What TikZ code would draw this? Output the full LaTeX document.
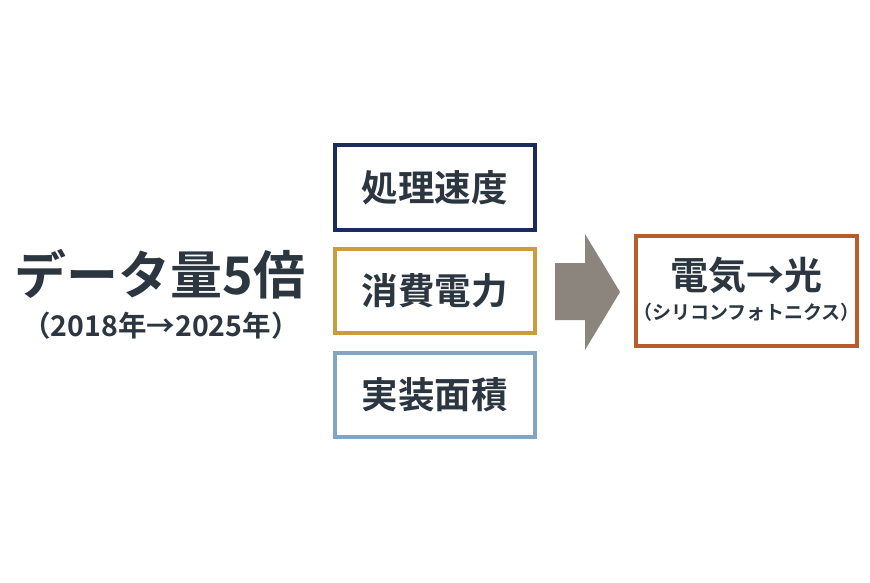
\documentclass[tikz,border=0pt]{standalone}
\usepackage{fontspec}
\newfontfamily\cjk{Noto Sans CJK JP}[BoldFont={* Bold}]
\definecolor{txt}{HTML}{2B3640}
\definecolor{navy}{HTML}{1A2B5C}
\definecolor{gold}{HTML}{C99D3E}
\definecolor{lblue}{HTML}{82A5C4}
\definecolor{rust}{HTML}{B65D2A}
\definecolor{arrowgray}{HTML}{8C857D}
\begin{document}
\begin{tikzpicture}[x=1pt,y=-1pt,
  lbl/.style={font=\cjk\bfseries, text=txt, inner sep=0pt},
  box/.style={draw, line width=4pt, fill=white, minimum width=200pt, minimum height=84pt, inner sep=0pt}]
\useasboundingbox[fill=white] (0,0) rectangle (870,583);
% left text
\node[lbl, font=\cjk\bfseries\fontsize{52}{58}\selectfont] (big) at (160,274) {データ量5倍};
\node[lbl, font=\cjk\bfseries\fontsize{28.5}{32}\selectfont] (years) at (161,326) {（2018年→2025年）};
% boxes
\node[box, draw=navy] (b1) at (434.5,187.5) {};
\node[lbl, font=\cjk\bfseries\fontsize{36.5}{42}\selectfont] (t1) at (b1) {処理速度};
\node[box, draw=gold] (b2) at (434.5,290.5) {};
\node[lbl, font=\cjk\bfseries\fontsize{36.5}{42}\selectfont] (t2) at (b2) {消費電力};
\node[box, draw=lblue] (b3) at (434.5,394.5) {};
\node[lbl, font=\cjk\bfseries\fontsize{36.5}{42}\selectfont] (t3) at (b3) {実装面積};
% block arrow
\fill[arrowgray] (555,263) -- (585,263) -- (585,234) -- (620,292) -- (585,350) -- (585,320) -- (555,320) -- cycle;
% result box
\node[box, draw=rust, minimum width=221pt, minimum height=110pt] (b4) at (746.5,291) {};
\node[lbl, font=\cjk\bfseries\fontsize{38}{44}\selectfont] (t4) at (746.5,275) {電気→光};
\node[lbl, font=\cjk\bfseries\fontsize{19}{23}\selectfont] (t5) at (746.5,312) {（シリコンフォトニクス）};
\end{tikzpicture}
\end{document}
